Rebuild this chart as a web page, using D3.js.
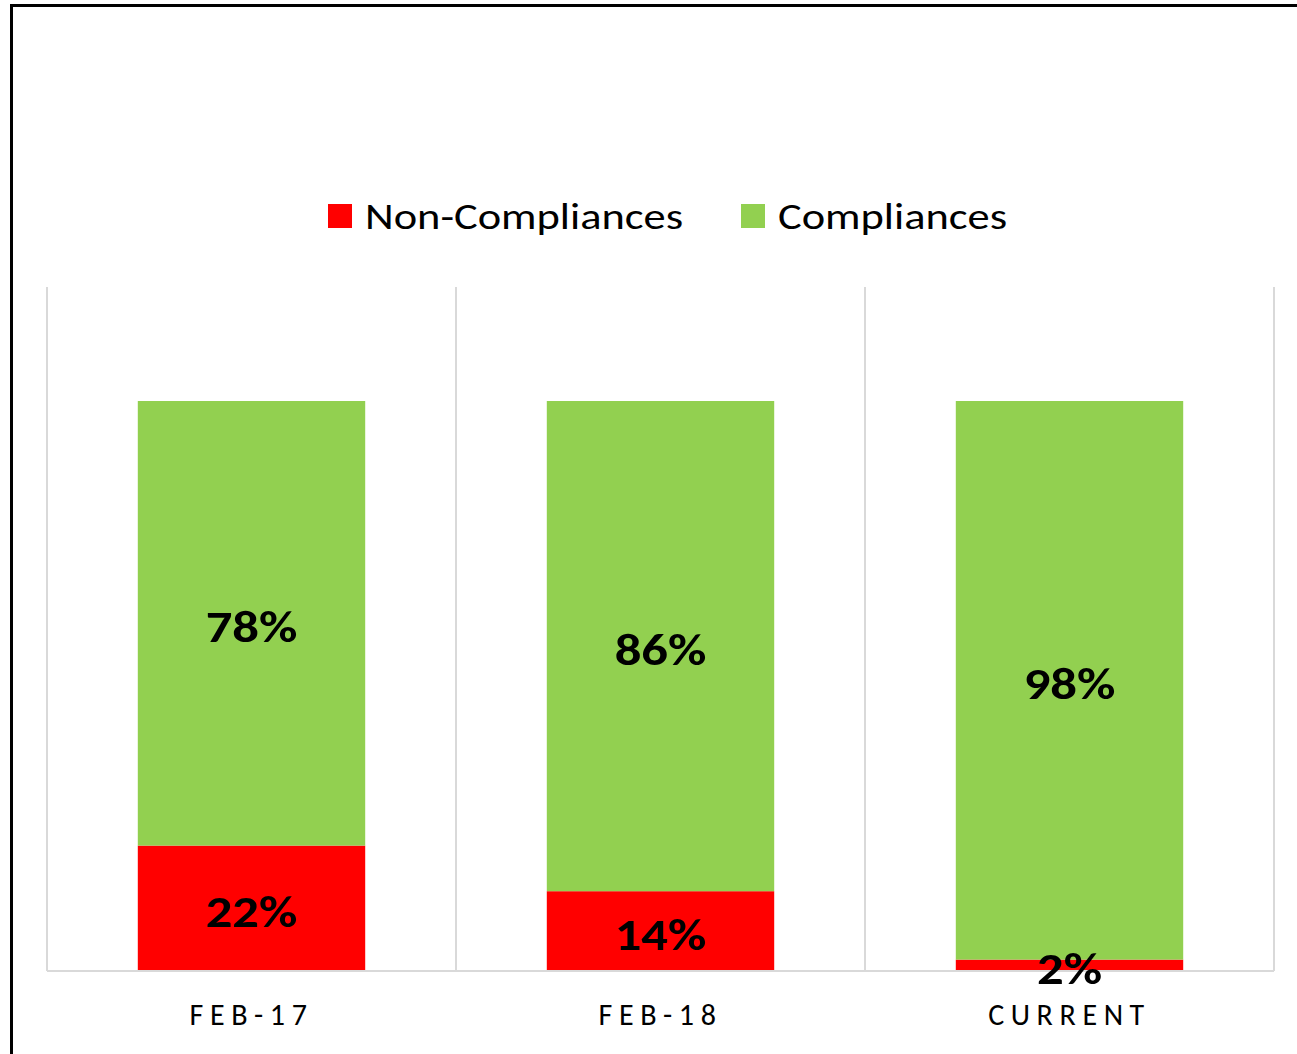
<!DOCTYPE html>
<html>
<head>
<meta charset="utf-8">
<script src="https://cdn.jsdelivr.net/npm/d3@7"></script>
<style>
  html, body { margin: 0; padding: 0; background: #fff; overflow: hidden; }
  svg { display: block; font-family: Calibri, Carlito, Lato, sans-serif; }
</style>
</head>
<body>
<div id="chart"></div>
<script>
const categories = ['FEB-17', 'FEB-18', 'CURRENT'];
const nonCompliances = [22, 14, 2];
const compliances = [78, 86, 98];
const seriesNames = ['Non-Compliances', 'Compliances'];
const seriesColors = ['#ff0000', '#92d050'];

const width = 1297, height = 1054;
const plot = {left: 47, right: 1274, top: 287, bottom: 971};

const svg = d3.select('#chart')
  .append('svg')
  .attr('width', width)
  .attr('height', height);

// outer frame (cropped on the right and bottom)
svg.append('path')
  .attr('d', `M11.5,${height + 5} V5.5 H${width + 5}`)
  .attr('fill', 'none')
  .attr('stroke', '#000')
  .attr('stroke-width', 3);

const rows = categories.map((c, i) => ({cat: c, 'Non-Compliances': nonCompliances[i], 'Compliances': compliances[i]}));
const stacked = d3.stack().keys(seriesNames)(rows);

const x = d3.scaleBand()
  .domain(categories)
  .range([plot.left, plot.right])
  .paddingInner(0)
  .paddingOuter(0);

const y = d3.scaleLinear()
  .domain([0, 120])
  .range([plot.bottom, plot.top]);

// vertical category separators
const grid = svg.append('g');
grid.selectAll('line')
  .data(d3.range(categories.length + 1))
  .join('line')
  .attr('x1', i => plot.left + i * x.step())
  .attr('x2', i => plot.left + i * x.step())
  .attr('y1', plot.top)
  .attr('y2', plot.bottom)
  .attr('stroke', '#d9d9d9')
  .attr('stroke-width', 2);

const barW = x.bandwidth() * 0.556;

const layers = svg.append('g').selectAll('g')
  .data(stacked)
  .join('g')
  .attr('fill', (d, i) => seriesColors[i]);

layers.selectAll('rect')
  .data(d => d)
  .join('rect')
  .attr('x', d => x(d.data.cat) + (x.bandwidth() - barW) / 2)
  .attr('width', barW)
  .attr('y', d => y(d[1]))
  .attr('height', d => y(d[0]) - y(d[1]));

// baseline
svg.append('line')
  .attr('x1', plot.left)
  .attr('x2', plot.right)
  .attr('y1', plot.bottom)
  .attr('y2', plot.bottom)
  .attr('stroke', '#d9d9d9')
  .attr('stroke-width', 2);

// data labels (stretched a bit wider, like the original's font)
svg.append('g').selectAll('g')
  .data(stacked)
  .join('g')
  .selectAll('text')
  .data(d => d.map(v => ({v, key: d.key})))
  .join('text')
  .attr('transform', d => `translate(${x(d.v.data.cat) + x.bandwidth() / 2},${(y(d.v[0]) + y(d.v[1])) / 2}) scale(1.17,1)`)
  .attr('dy', '0.42em')
  .attr('text-anchor', 'middle')
  .attr('font-size', 45)
  .attr('font-weight', 'bold')
  .attr('fill', '#000')
  .text(d => (d.v[1] - d.v[0]) + '%');

// category axis
const axis = svg.append('g')
  .attr('transform', `translate(0,${plot.bottom})`)
  .call(d3.axisBottom(x).tickSize(0).tickPadding(33));
axis.select('.domain').remove();
axis.selectAll('text')
  .attr('font-size', 30)
  .attr('font-family', 'Calibri, Carlito, Lato, sans-serif')
  .attr('letter-spacing', '0.22em')
  .attr('fill', '#000');

// legend
const legendItems = [
  {name: seriesNames[0], color: seriesColors[0], x: 328},
  {name: seriesNames[1], color: seriesColors[1], x: 741}
];
const legend = svg.append('g').selectAll('g')
  .data(legendItems)
  .join('g')
  .attr('transform', d => `translate(${d.x},204)`);
legend.append('rect')
  .attr('width', 24)
  .attr('height', 24)
  .attr('fill', d => d.color);
legend.append('text')
  .attr('transform', 'translate(37,12) scale(1.2,1)')
  .attr('dy', '0.34em')
  .attr('font-size', 37)
  .attr('fill', '#000')
  .text(d => d.name);
</script>
</body>
</html>
